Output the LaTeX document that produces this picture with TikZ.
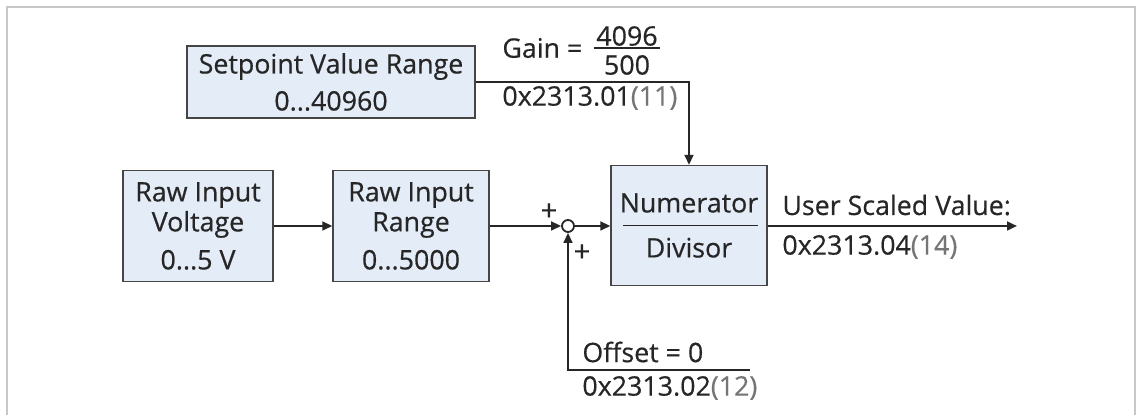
\documentclass[tikz,border=0pt]{standalone}
\usepackage{fontspec}
\setmainfont{Open Sans}[RawFeature={embolden=0.5}]
\usetikzlibrary{arrows.meta,positioning}

\definecolor{boxfill}{HTML}{E4ECF7}
\definecolor{boxline}{HTML}{454545}
\definecolor{linecol}{HTML}{262626}
\definecolor{framecol}{HTML}{C8C8C8}
\definecolor{idxgray}{HTML}{757575}

\tikzset{
    blockbox/.style={draw=boxline, fill=boxfill, line width=0.65pt, align=center, inner sep=0pt, text=linecol},
    sigline/.style={draw=linecol, line width=1.1pt, -{Triangle[length=5pt,width=4.4pt]}},
    lbl/.style={anchor=west, inner sep=0pt, text=linecol},
    sumpoint/.style={circle, draw=linecol, fill=white, line width=0.9pt, minimum size=6pt, inner sep=0pt},
}

\begin{document}
\begin{tikzpicture}[x=0.5pt,y=-0.5pt,font=\fontsize{13.4}{15}\selectfont]
    \useasboundingbox (0,0) rectangle (1136,415);

    % Bingkai luar (tanpa garis bawah)
    \draw[framecol, line width=1pt] (7,415) -- (7,7) -- (1135,7) -- (1135,415);

    % Blok-blok
    \node[blockbox, minimum width=144pt, minimum height=36pt] (setpoint) at (331,82) {Setpoint Value Range\\[3.5pt]0...40960};
    \node[blockbox, minimum width=75pt, minimum height=55.5pt] (rawvolt) at (198,226) {Raw Input\\Voltage\\[4pt]0...5 V};
    \node[blockbox, minimum width=78pt, minimum height=55.5pt] (rawrange) at (411,226) {Raw Input\\Range\\[4pt]0...5000};
    \node[blockbox, minimum width=78pt, minimum height=60pt] (divbox) at (689,225.5) {Numerator\\[7.5pt]Divisor};
    \draw[linecol, line width=0.7pt] ([xshift=6.5pt]divbox.west) -- ([xshift=-5pt]divbox.east);
    \node[sumpoint] (sum) at (568,226) {};

    % Label gain
    \node[lbl] (gain) at (502,48) {Gain =};
    \node[inner sep=0pt, text=linecol] (gainnum) at (627,36) {4096};
    \node[inner sep=0pt, text=linecol] (gainden) at (627,65) {500};
    \draw[linecol, line width=0.7pt] ([xshift=-1pt]gainnum.west |- gain) -- ([xshift=1pt]gainnum.east |- gain);

    % Label alamat objek
    \foreach \nm/\px/\py/\sidx/\idx in {addrgain/502/98/01/11, addrout/782/247/04/14, addroff/582/388/02/12} {
        \node[lbl] (\nm) at (\px,\py) {0x2313.\sidx\textcolor{idxgray}{(\idx)}};
    }
    \node[lbl] (userval) at (782,205) {User Scaled Value:};
    \node[lbl] (offset) at (582,352) {Offset = 0};
    \node[text=linecol, inner sep=0pt, font=\fontsize{14.5}{15}\selectfont] (plusin) at (549,212) {+};
    \node[text=linecol, inner sep=0pt, font=\fontsize{14.5}{15}\selectfont] (plusoff) at (582,253) {+};

    % Garis sinyal
    \coordinate (userout) at (1017,226);
    \coordinate (offend) at (750,370);
    \draw[sigline] (setpoint.east) -| (divbox.north);
    \draw[sigline] (rawvolt) -- (rawrange);
    \draw[sigline] (rawrange) -- (sum);
    \draw[sigline] (sum) -- (sum -| divbox.west);
    \draw[sigline] (divbox.east |- userout) -- (userout);
    \draw[sigline] (offend) -| (sum.south);

\end{tikzpicture}
\end{document}
